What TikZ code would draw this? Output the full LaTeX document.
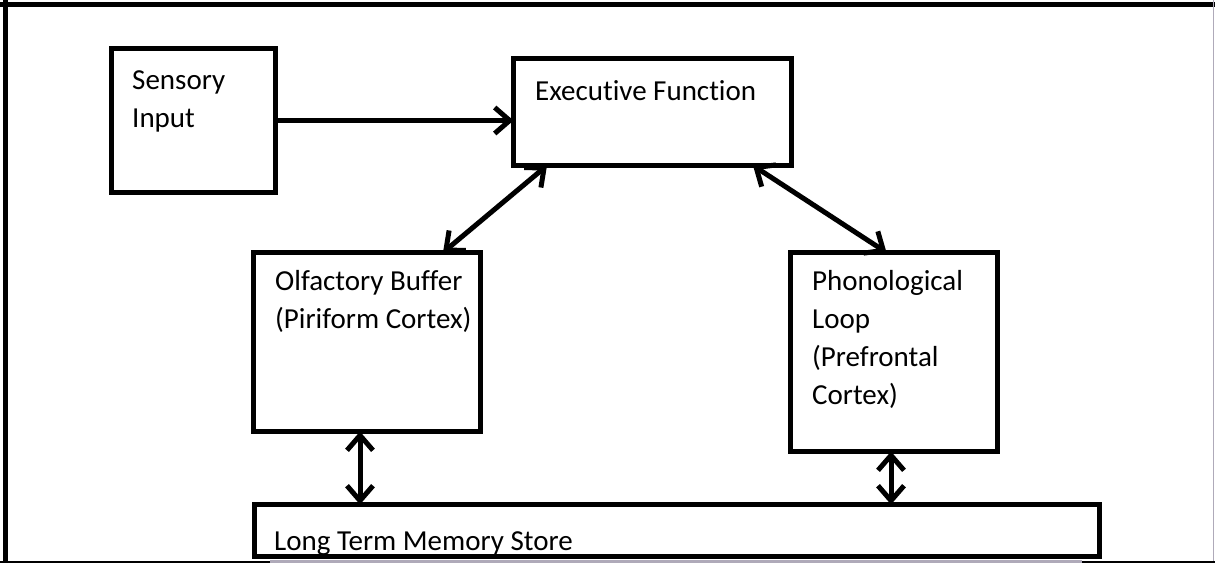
\documentclass[tikz,border=0pt]{standalone}
\usepackage{fontspec}
\setmainfont{Carlito}[Ligatures=CommonOff]
\usetikzlibrary{arrows.meta, positioning, calc}
\definecolor{framegray}{RGB}{175,170,185}
\tikzset{
  block/.style={rectangle, draw=black, line width=5pt, outer sep=0pt, inner sep=0pt, anchor=north west},
  boxtext/.style={anchor=base west, align=left, inner sep=0pt, font=\fontsize{29}{38}\selectfont},
  feed/.style={line width=5pt, -{Straight Barb[length=15pt,width=26pt]}},
  link/.style={line width=5pt, {Straight Barb[length=15pt,width=26pt]}-{Straight Barb[length=15pt,width=26pt]}}
}

\begin{document}
\begin{tikzpicture}[x=1pt, y=-1pt]
\useasboundingbox (0,0) rectangle (1215,563);
% page frame
\draw[line width=5pt] (0,4.2) -- (1215,4.2);
\draw[line width=5pt] (5.8,0) -- (5.8,563);
\draw[framegray, line width=1.5pt] (1213.5,0) -- (1213.5,563);
\draw[line width=1.5pt] (0,562) -- (270,562);
\draw[framegray, line width=3pt] (270,561) -- (1082,561);
\draw[line width=1.5pt] (1082,562) -- (1215,562);

% boxes
\node[block, minimum width=164pt, minimum height=144pt] (sens) at (111.5,48.5) {};
\node[block, minimum width=277.5pt, minimum height=107.5pt] (exec) at (513.5,58) {};
\node[block, minimum width=227pt, minimum height=179pt] (olf) at (253.5,252.5) {};
\node[block, minimum width=207pt, minimum height=199pt] (phon) at (790.5,252.5) {};
\node[block, minimum width=845pt, minimum height=52pt] (ltm) at (254.5,504.5) {};

% texts (anchored on the last line)
\node[boxtext] (sens-txt) at (132,127) {Sensory\\Input};
\node[boxtext] (exec-txt) at (535,100) {Executive Function};
\node[boxtext] (olf-txt) at (275,328) {Olfactory Buffer\\(Piriform Cortex)};
\node[boxtext] (phon-txt) at (812,404) {Phonological\\Loop\\(Prefrontal\\Cortex)};
\node[boxtext] (ltm-txt) at (274,550) {Long Term Memory Store};

% arrows
\draw[feed] (sens.east) -- (sens.east -| exec.west);
\draw[link] ($(exec.south west)+(33.5,0)$) -- ($(olf.north east)+(-37.5,0)$);
\draw[link] ($(exec.south east)+(-38,0)$) -- ($(phon.north west)+(96,0)$);
\coordinate (olf-ltm) at ($(olf.south)+(-7,0)$);
\coordinate (phon-ltm) at ($(phon.south)+(-3,0)$);
\draw[link] (olf-ltm) -- (olf-ltm |- ltm.north);
\draw[link] (phon-ltm) -- (phon-ltm |- ltm.north);
\end{tikzpicture}
\end{document}
